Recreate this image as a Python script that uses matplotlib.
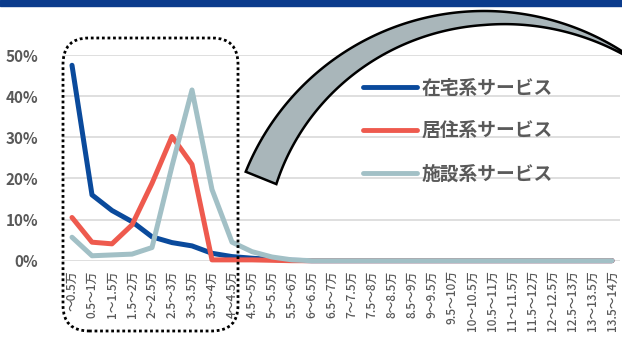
import numpy as np
import matplotlib
matplotlib.use("Agg")
import matplotlib.pyplot as plt
from matplotlib.patches import Polygon, Rectangle, FancyBboxPatch
from matplotlib.transforms import IdentityTransform

plt.rcParams['font.family'] = ['Noto Sans CJK JP', 'DejaVu Sans']

labels = ["～0.5万", "0.5～1万", "1～1.5万", "1.5～2万", "2～2.5万", "2.5～3万",
          "3～3.5万", "3.5～4万", "4～4.5万", "4.5～5万", "5～5.5万", "5.5～6万",
          "6～6.5万", "6.5～7万", "7～7.5万", "7.5～8万", "8～8.5万", "8.5～9万",
          "9～9.5万", "9.5～10万", "10～10.5万", "10.5～11万", "11～11.5万",
          "11.5～12万", "12～12.5万", "12.5～13万", "13～13.5万", "13.5～14万"]

zaitaku = [47.5, 16.0, 12.2, 9.5, 5.8, 4.4, 3.6, 1.8, 1.0, 0.6, 0.3, 0.1,
           0, 0, 0, 0, 0, 0, 0, 0, 0, 0, 0, 0, 0, 0, 0, 0]
kyoju = [10.5, 4.5, 4.1, 8.7, 18.8, 30.2, 23.4, 0.2, 0.2, 0.2, 0.1, 0,
         0, 0, 0, 0, 0, 0, 0, 0, 0, 0, 0, 0, 0, 0, 0, 0]
shisetsu = [5.7, 1.2, 1.4, 1.6, 3.2, 23.0, 41.5, 17.3, 4.5, 2.2, 0.9, 0.2,
            0, 0, 0, 0, 0, 0, 0, 0, 0, 0, 0, 0, 0, 0, 0, 0]

series_names = ["在宅系サービス", "居住系サービス", "施設系サービス"]
colors = ["#0a4a9c", "#ee5a4e", "#a2c0c6"]

W, H = 622, 337
fig = plt.figure(figsize=(W / 100, H / 100), dpi=100)
ax = fig.add_axes([62 / W, 1 - 260.7 / H, 558 / W, 205.7 / H])

x = np.arange(len(labels))
for vals, c, name in zip([zaitaku, kyoju, shisetsu], colors, series_names):
    ax.plot(x, np.array(vals) / 100, color=c, lw=3.6, label=name,
            solid_joinstyle='round', solid_capstyle='round', clip_on=False, zorder=3)

ax.set_xlim(-0.5, 27.4)
ax.set_ylim(0, 0.5)
ax.set_yticks([0, 0.1, 0.2, 0.3, 0.4, 0.5])
ax.set_yticklabels(["0%", "10%", "20%", "30%", "40%", "50%"],
                   fontsize=11, fontweight='bold', color='#595959')
ax.set_xticks(x)
ax.set_xticklabels(labels, rotation=90, fontsize=8.5, fontweight='medium',
                   color='#595959')
ax.tick_params(axis='both', length=0)
ax.tick_params(axis='y', pad=17)
ax.tick_params(axis='x', pad=7)
ax.grid(axis='y', color='#d9d9d9', lw=1.2)
ax.set_axisbelow(True)
for s in ax.spines.values():
    s.set_visible(False)

leg = ax.legend(loc='upper left', bbox_to_anchor=(363 / W, 1 - 79 / H),
                bbox_transform=fig.transFigure, frameon=False, borderpad=0,
                borderaxespad=0, handlelength=2.9, handletextpad=0.2,
                labelspacing=1.28,
                prop={'family': 'Noto Sans CJK JP', 'weight': 'bold', 'size': 13.5})
for t in leg.get_texts():
    t.set_color('#595959')
for l in leg.get_lines():
    l.set_linewidth(3.5)
    l.set_solid_capstyle('round')

# top band
fig.add_artist(Rectangle((0, 1 - 6 / H), 1, 6 / H, transform=fig.transFigure,
                         color='#0b3b8c', zorder=5))

# curved arrow shape (pixel coords, y down)
cx, cy, R = 484, 268, 257
deg = np.linspace(158, 40, 200)
th = np.radians(deg)
t = np.where(deg > 90, 14 + (deg - 90) * 0.28, 14 - (90 - deg) * 0.36)
t = np.clip(t, 1, None)
ox = cx + R * np.cos(th)
oy = cy - R * np.sin(th)
ix = cx + (R - t) * np.cos(th)
iy = cy - (R - t) * np.sin(th)
px = np.concatenate([ox, ix[::-1]])
py = np.concatenate([oy, iy[::-1]])
fig.add_artist(Polygon(np.column_stack([px / W, 1 - py / H]), closed=True,
                       transform=fig.transFigure, facecolor='#a9b6ba',
                       edgecolor='black', lw=1.8, zorder=4))

# dotted rounded box
fig.add_artist(FancyBboxPatch((63, H - 331), 175, 293,
                              boxstyle='round,pad=0,rounding_size=26',
                              transform=IdentityTransform(), fill=False,
                              edgecolor='black', lw=2, linestyle=(0, (1, 1)),
                              zorder=6))

fig.savefig("out.png", dpi=100)
